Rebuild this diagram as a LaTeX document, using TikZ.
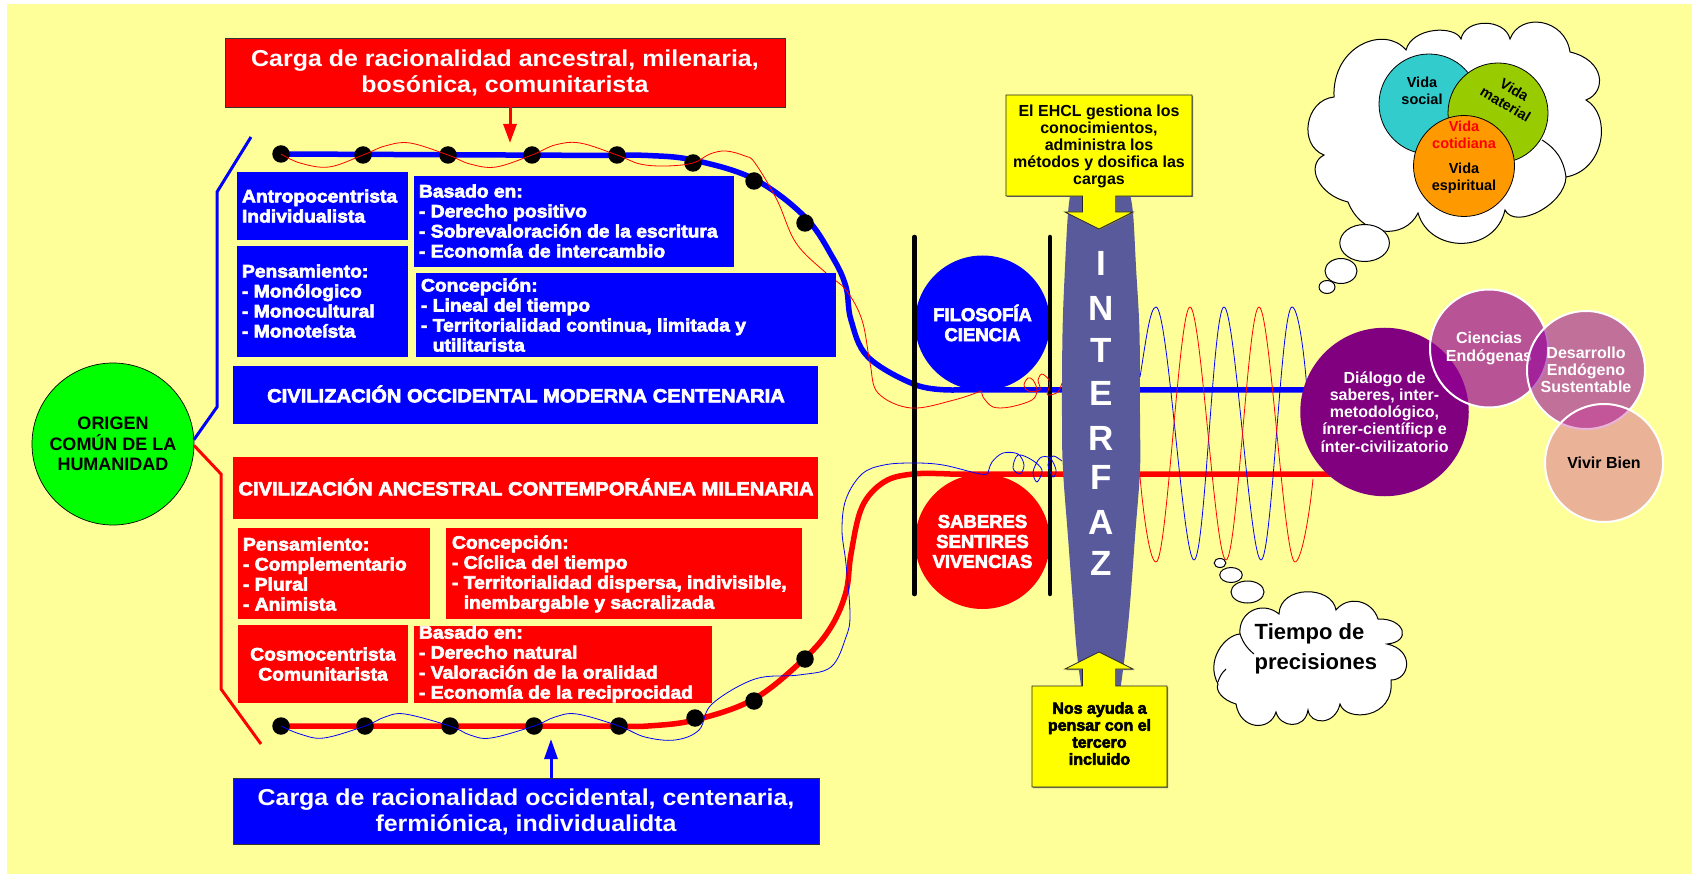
\documentclass[tikz,border=0pt]{standalone}
\usepackage{fontspec}
\setmainfont{Liberation Sans}
\newfontfamily\fat[FakeBold=3.5,FakeStretch=1.07]{Liberation Sans Bold}
\newfontfamily\fatt[FakeBold=3.5,FakeStretch=1.06]{Liberation Sans Bold}
\newfontfamily\fatn[FakeBold=3.5]{Liberation Sans Bold}
\newfontfamily\bigw[FakeStretch=1.085]{Liberation Sans Bold}
\usetikzlibrary{arrows.meta}
\definecolor{bgy}{HTML}{FFFF99}
\definecolor{yel}{HTML}{FFFF00}
\definecolor{inter}{HTML}{585A9C}
\definecolor{cyanc}{HTML}{33CCCC}
\definecolor{greenc}{HTML}{99CC00}
\definecolor{orangec}{HTML}{FF9900}
\definecolor{pur}{HTML}{800080}
\definecolor{cien}{RGB}{150,0,150}
\definecolor{desa}{RGB}{146,0,155}
\definecolor{vivi}{RGB}{197,40,150}
\newcommand{\rbox}[6]{\pgfmathsetmacro\cxx{(#2+#4)/2}\pgfmathsetmacro\cyy{(#3+#5)/2}\pgfmathsetmacro\bww{#4-#2}\pgfmathsetmacro\bhh{#5-#3}\node[#6,inner sep=0pt,outer sep=0pt,minimum width=\bww pt,minimum height=\bhh pt] (#1) at (\cxx,\cyy) {};}
\tikzset{
 x=1pt,y=-1pt,
 blubox/.style={fill=blue},
 redbox/.style={fill=red},
 labelt/.style={inner sep=0pt,outer sep=0pt,text=white,align=left,font=\fontsize{18}{20}\selectfont\fat},
 labelc/.style={labelt,align=center,font=\fontsize{19}{20}\selectfont\fatt},
 labelm/.style={labelt,align=center},
 bigt/.style={inner sep=0pt,text=white,align=center,font=\fontsize{23}{26}\selectfont\bigw},
 dotb/.style={circle,fill=black,inner sep=0pt,minimum size=17.5pt},
 thickb/.style={draw=blue,line width=5.5pt},
 thickr/.style={draw=red,line width=5.5pt},
 brk/.style={line width=3pt},
 bar/.style={draw=black,line width=4.5pt,line cap=round},
 wavr/.style={draw=red,line width=0.8pt},
 wavb/.style={draw=blue,line width=0.8pt},
 txtb/.style={inner sep=0pt,align=center,font=\fontsize{16}{17}\selectfont\bfseries},
 txtf/.style={inner sep=0pt,align=center,font=\fontsize{16}{17}\selectfont\fatn},
 cloudl/.style={fill=white,draw=black,line width=1pt},
 vida/.style={inner sep=0pt,align=center,font=\fontsize{14.5}{17}\selectfont\bfseries},
 letra/.style={inner sep=0pt,text=white,font=\fontsize{35}{35}\selectfont\bfseries},
 call/.style={fill=yel,draw=black!85,line width=0.8pt},
 callsh/.style={fill=black!55}
}
\begin{document}
\begin{tikzpicture}
\useasboundingbox (0,0) rectangle (1692,874);
\fill[white] (0,0) rectangle (1692,874);
\fill[bgy] (7,4) rectangle (1692,874);
% origin
\node[circle,fill=green,draw=black,line width=0.7pt,minimum size=162pt,inner sep=0pt,outer sep=0pt,align=center,font=\fontsize{18}{20.5}\selectfont\bfseries] (origen) at (113,444) {ORIGEN\\COMÚN DE LA\\HUMANIDAD};
\coordinate (bbend) at (251,137);
\coordinate (rbend) at (261,744);
\draw[blue,brk] (origen.3) -- (217,407) -- (217,192) -- (bbend);
\draw[red,brk] (origen.-1) -- (221,474) -- (221,689) -- (rbend);
% dots
\foreach \n/\x/\y in {a1/281/154,a2/363/155,a3/448/155,a4/532/155,a5/617/155,a6/693/163,a7/754/181,a8/805/223,
 b1/281/726,b2/365/726,b3/450/726,b4/534/726,b5/619/726,b6/695/718,b7/754/701,b8/805/659}
  \coordinate (\n) at (\x,\y);
\coordinate (dial) at (1384.5,412);
% main lines
\draw[thickb] (a1) -- (617,155.5) -- plot[smooth,tension=0.6] coordinates {(617,155.5)(648,155.5)(693,160)(754,179)(805,217)(833,258)(846,287)(851,320)(868,357)(916,385)(954,390)} -- (dial |- 0,390);
\draw[thickr] (b1) -- (619,726) -- plot[smooth,tension=0.6] coordinates {(619,726)(648,726)(695,720)(754,699)(805,658)(831,627)(846,592)(851,554)(862,507)(884,482)(913,474)(950,474)} -- (dial |- 0,474);
\foreach \n in {a1,a2,a3,a4,a5,a6,a7,a8,b1,b2,b3,b4,b5,b6,b7,b8}
  \node[dotb] (d\n) at (\n) {};
% filosofia / saberes
\node[circle,fill=blue,minimum size=135pt,inner sep=0pt,align=center,text=white,font=\fontsize{18.5}{20}\selectfont\fatn] (filo) at (982.5,323) {FILOSOFÍA\\CIENCIA};
\node[circle,fill=red,minimum size=135pt,inner sep=0pt,align=center,text=white,font=\fontsize{18.5}{20}\selectfont\fatn] (sabe) at (982.5,541.5) {SABERES\\SENTIRES\\VIVENCIAS};
\draw[bar] (914.5,237) -- (914.5,594);
\draw[bar] (1050,237) -- (1050,594);
% interfaz
\fill[inter] plot[smooth,tension=0.6] coordinates {(1071,190)(1068,213)(1065,267)(1062.5,333)(1062,420)(1063,470)(1068,537)(1073,604)(1077,654)(1082,692)}
 -- plot[smooth,tension=0.6] coordinates {(1120,692)(1125,654)(1130,604)(1135,537)(1140,470)(1140,420)(1139.5,333)(1136,267)(1133,213)(1129,190)} -- cycle;
\foreach \n/\l/\y in {l1/I/263,l2/N/308,l3/T/350,l4/E/393,l5/R/438,l6/F/477,l7/A/522,l8/Z/563}
  \node[letra] (\n) at (1101,\y) {\l};
% waves
\draw[wavr] plot[smooth,tension=0.6] coordinates {(a1)(300,163)(329,167)(363,155)(385,146)(410,143)(448,155)(470,164)(496,167)(532,155)(555,145)(580,143)(617,155)(640,164)(666,166)(693,163)(710,154)(726,151)(745,156)(755,163)(777,200)(796,243)(826,273)(846,290)(862,320)(870,363)(878,393)(911,408)(954,400)(981,391)};
\draw[wavr] plot[smooth,tension=0.55] coordinates {(981.7,390.7)(983,397)(993,407)(1010,407)(1032,400)(1037,390)(1033,380)(1028,378)(1024,385)(1028,391)(1040,390)(1038,380)(1042,374)(1049,380)(1049,388)(1047,394)(1050,395)(1058,392)(1062,383)};
\draw[wavb] plot[smooth,tension=0.6] coordinates {(b1)(300,734)(324,738)(365,726)(385,717)(405,714)(450,726)(470,735)(491,738)(534,726)(555,717)(577,714)(619,726)(645,737)(675,740)(699,730)(712,704)(755,679)(799,675)(831,667)(846,637)(850,614)(846,564)(842,530)(846,499)(862,474)(884,465)(913,463)(943,465)(980,474)(988,473)};
\draw[wavb] plot[smooth,tension=0.55] coordinates {(988,473)(992,462)(1003,453)(1018,454)(1024,465)(1020,474)(1013,468)(1018,455)(1032,460)(1042,470)(1037,482)(1033,472)(1040,458)(1050,458)(1056,470)(1053,477)(1048,465)(1053,456)(1062,461)};
\draw[wavb] (1140,377) .. controls (1146,340) and (1150,307) .. (1156,307) .. controls (1168,307) and (1183,560) .. (1194,560) .. controls (1205,560) and (1213,307) .. (1224,307) .. controls (1235,307) and (1250,560) .. (1261,560) .. controls (1272,560) and (1281,307) .. (1292,307) .. controls (1298,307) and (1304,350) .. (1307,390);
\draw[wavr] (1140,477) .. controls (1144,520) and (1150,562) .. (1156,562) .. controls (1167,562) and (1179,307) .. (1190,307) .. controls (1201,307) and (1215,560) .. (1226,560) .. controls (1237,560) and (1248,307) .. (1259,307) .. controls (1270,307) and (1284,562) .. (1295,562) .. controls (1301,562) and (1309,520) .. (1313,479);
% boxes upper
\rbox{ba}{237}{172}{408}{240}{blubox}
\node[labelt,anchor=west] (ta) at (242,206) {Antropocentrista\\Individualista};
\rbox{bb}{414}{176}{734}{267}{blubox}
\node[labelt,anchor=west] (tb) at (419,221) {Basado en:\\- Derecho positivo\\- Sobrevaloración de la escritura\\- Economía de intercambio};
\rbox{bc}{237}{246}{408}{357}{blubox}
\node[labelt,anchor=west] (tc) at (242,301) {Pensamiento:\\- Monólogico\\- Monocultural\\- Monoteísta};
\rbox{bd}{416}{273}{836}{357}{blubox}
\node[labelt,anchor=west] (td) at (421,315) {Concepción:\\- Lineal del tiempo\\- Territorialidad continua, limitada y\\\phantom{- }utilitarista};
\rbox{be}{233}{366}{818}{424}{blubox}
\node[labelc] (te) at (526,394) {CIVILIZACIÓN OCCIDENTAL MODERNA CENTENARIA};
% boxes lower
\rbox{bf}{233}{457}{818}{519}{redbox}
\node[labelc] (tf) at (526,487) {CIVILIZACIÓN ANCESTRAL CONTEMPORÁNEA MILENARIA};
\rbox{bg}{238}{528}{430}{619}{redbox}
\node[labelt,anchor=west] (tg) at (243,574) {Pensamiento:\\- Complementario\\- Plural\\- Animista};
\rbox{bh}{446}{528}{802}{619}{redbox}
\node[labelt,anchor=west] (th) at (452,574) {Concepción:\\- Cíclica del tiempo\\- Territorialidad dispersa, indivisible,\\\phantom{- }inembargable y sacralizada};
\rbox{bi}{238}{625}{408}{703}{redbox}
\node[labelm] (ti) at (323,664) {Cosmocentrista\\Comunitarista};
\rbox{bj}{414}{626}{712}{703}{redbox}
\node[labelt,anchor=west] (tj) at (419,664) {Basado en:\\- Derecho natural\\- Valoración de la oralidad\\- Economía de la reciprocidad};
% carga boxes
\rbox{cr}{225}{38}{785}{107}{redbox,draw=black!80,line width=0.8pt}
\node[bigt] (tcr) at (505,73) {Carga de racionalidad ancestral, milenaria,\\bosónica, comunitarista};
\rbox{cb}{233}{778}{819}{844}{blubox,draw=black!80,line width=0.8pt}
\node[bigt] (tcb) at (526,812) {Carga de racionalidad occidental, centenaria,\\fermiónica, individualidta};
\coordinate (rtip) at (510,143);
\coordinate (btip) at (551,739);
\draw[red,line width=3pt,-{Triangle[length=19pt,width=13pt]}] (rtip |- cr.south) -- (rtip);
\draw[blue,line width=3pt,-{Triangle[length=20pt,width=13pt]}] (btip |- cb.north) -- (btip);
% callouts
\path[callsh] (1007,96) -- (1193,96) -- (1193,197) -- (1116.5,197) -- (1116.5,213) -- (1134,213) -- (1100,230) -- (1066,213) -- (1083,213) -- (1083,197) -- (1007,197) -- cycle;
\path[call] (1006,95) -- (1192,95) -- (1192,196) -- (1115.8,196) -- (1115.8,212) -- (1133,212) -- (1099,229) -- (1065,212) -- (1082.4,212) -- (1082.4,196) -- (1006,196) -- cycle;
\node[txtb] (ty) at (1099,146) {El EHCL gestiona los\\conocimientos,\\administra los\\métodos y dosifica las\\cargas};
\path[callsh] (1033,687) -- (1083,687) -- (1083,670) -- (1066,670) -- (1100,653) -- (1134,670) -- (1116.5,670) -- (1116.5,687) -- (1168,687) -- (1168,788) -- (1033,788) -- cycle;
\path[call] (1032,686) -- (1082.4,686) -- (1082.4,669) -- (1065,669) -- (1099,652) -- (1133,669) -- (1115.8,669) -- (1115.8,686) -- (1167,686) -- (1167,787) -- (1032,787) -- cycle;
\node[txtf] (tz) at (1099.5,733.5) {Nos ayuda a\\pensar con el\\tercero\\incluido};
% top cloud
\draw[cloudl] (1406,50) .. controls (1412,27) and (1455,25) .. (1461,39) .. controls (1465,18) and (1505,18) .. (1510,39) .. controls (1520,12) and (1565,18) .. (1570,52) .. controls (1605,60) and (1607,92) .. (1586,100) .. controls (1612,115) and (1605,170) .. (1566,177) .. controls (1565,205) and (1515,230) .. (1505,210) .. controls (1495,254) and (1430,254) .. (1418,213) .. controls (1405,240) and (1362,238) .. (1348,202) .. controls (1318,195) and (1305,165) .. (1324,155) .. controls (1298,145) and (1305,100) .. (1334,97) .. controls (1332,45) and (1385,25) .. cycle;
\draw[black,line width=1pt] (1542,140) to[bend left=25] (1566,177);
\node[circle,cloudl,minimum size=37pt,inner sep=0pt,xscale=1.34] (cb1) at (1364.6,243) {};
\node[circle,cloudl,minimum size=25pt,inner sep=0pt,xscale=1.28] (cb2) at (1341,271) {};
\node[circle,cloudl,minimum size=13pt,inner sep=0pt,xscale=1.23] (cb3) at (1327,287) {};
\node[circle,fill=cyanc,draw=black,line width=0.8pt,minimum size=100pt,inner sep=0pt] (vs) at (1429,104) {};
\node[vida] (tvs) at (1422,91) {Vida\\social};
\node[circle,fill=greenc,draw=black,line width=0.8pt,minimum size=100pt,inner sep=0pt] (vm) at (1498,113) {};
\node[vida,rotate=-31] (tvm) at (1510,97) {Vida\\material};
\node[circle,fill=orangec,draw=black,line width=0.8pt,minimum size=101pt,inner sep=0pt] (vc) at (1464,166) {};
\node[vida,text=red] (tvc) at (1464,135) {Vida\\cotidiana};
\node[vida] (tve) at (1464,178.5) {Vida\\espiritual};
% lower cloud
\draw[cloudl] (1240,634) .. controls (1238,612) and (1262,600) .. (1279,614) .. controls (1280,585) and (1332,585) .. (1336,610) .. controls (1348,595) and (1372,600) .. (1378,619) .. controls (1405,618) and (1412,642) .. (1387,644) .. controls (1415,650) and (1410,680) .. (1391,680) .. controls (1395,720) and (1345,722) .. (1340,704) .. controls (1335,726) and (1310,725) .. (1308,710) .. controls (1305,730) and (1280,728) .. (1276,712) .. controls (1270,732) and (1240,730) .. (1236,704) .. controls (1222,700) and (1215,690) .. (1218,684) .. controls (1205,660) and (1225,635) .. cycle;
\draw[black,line width=1pt] (1240,634) to[bend right=15] (1254,654);
\draw[black,line width=1pt] (1226,669) to[bend right=15] (1218,682);
\node[circle,cloudl,minimum size=22pt,inner sep=0pt,xscale=1.5] (cc3) at (1247.5,592) {};
\node[circle,cloudl,minimum size=15pt,inner sep=0pt,xscale=1.5] (cc2) at (1231,575) {};
\node[circle,cloudl,minimum size=9pt,inner sep=0pt,xscale=1.3] (cc1) at (1220,563) {};
\node[inner sep=0pt,align=left,anchor=west,font=\fontsize{22}{30}\selectfont\bfseries] (ttp) at (1254.5,649) {Tiempo de\\precisiones};
% right circles
\node[circle,fill=pur,minimum size=168.5pt,inner sep=0pt,outer sep=0pt,align=center,text=white,font=\fontsize{16}{17.2}\selectfont\bfseries] (dialogo) at (dial) {Diálogo de\\saberes, inter-\\metodológico,\\ínrer-científicp e\\ínter-civilizatorio};
\node[circle,fill=cien,fill opacity=0.67,text opacity=1,draw=white,draw opacity=1,line width=2pt,minimum size=118pt,inner sep=0pt,align=center,text=white,font=\fontsize{16}{18}\selectfont\bfseries] (cienc) at (1489,348.5) {Ciencias\\Endógenas};
\node[circle,fill=desa,fill opacity=0.56,text opacity=1,draw=white,draw opacity=1,line width=2pt,minimum size=118pt,inner sep=0pt,align=center,text=white,font=\fontsize{16}{17}\selectfont\bfseries] (desar) at (1586,370) {Desarrollo\\Endógeno\\Sustentable};
\node[circle,fill=vivi,fill opacity=0.35,text opacity=1,draw=white,draw opacity=1,line width=2pt,minimum size=118pt,inner sep=0pt,align=center,text=black,font=\fontsize{16}{17}\selectfont\bfseries] (vivir) at (1604,463) {Vivir Bien};
\end{tikzpicture}
\end{document}
